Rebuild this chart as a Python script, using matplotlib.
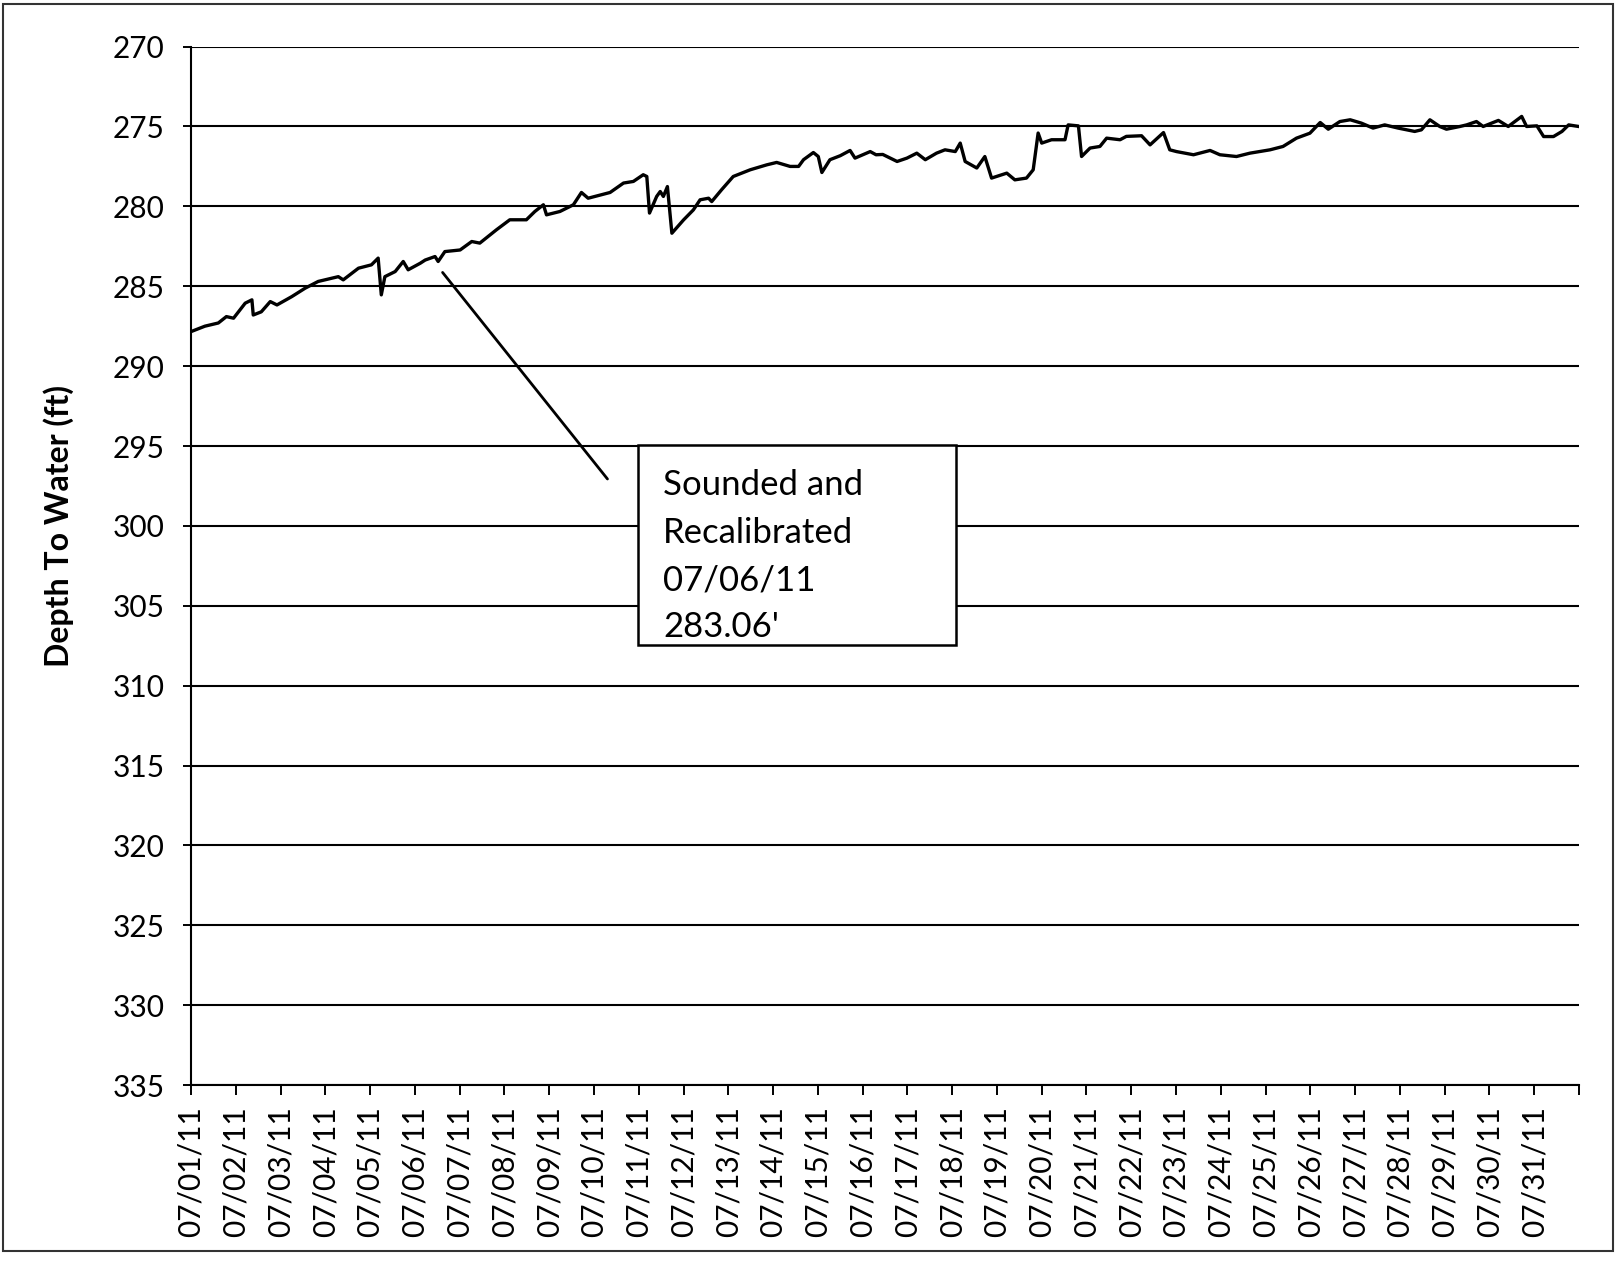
import matplotlib
matplotlib.use("Agg")
import matplotlib.pyplot as plt
from matplotlib.patches import Rectangle

plt.rcParams['font.family'] = ['Lato', 'DejaVu Sans']

# days since 07/01/11 00:00 and depth to water (ft)
days = [0.00, 0.31, 0.61, 0.79, 0.95, 1.21, 1.36, 1.39, 1.57, 1.77, 1.92, 2.25,
        2.55, 2.84, 3.14, 3.29, 3.40, 3.74, 4.03, 4.18, 4.25, 4.33, 4.56, 4.74,
        4.85, 5.12, 5.23, 5.45, 5.52, 5.67, 6.01, 6.27, 6.45, 6.82, 7.12, 7.49,
        7.68, 7.87, 7.94, 8.24, 8.54, 8.72, 8.87, 9.36, 9.66, 9.88, 10.10, 10.18,
        10.24, 10.40, 10.48, 10.55, 10.64, 10.74, 11.00, 11.22, 11.37, 11.56,
        11.63, 11.85, 12.11, 12.49, 12.86, 13.08, 13.38, 13.57, 13.68, 13.90,
        14.01, 14.09, 14.27, 14.50, 14.72, 14.83, 15.17, 15.30, 15.45, 15.77,
        15.99, 16.21, 16.40, 16.65, 16.84, 17.07, 17.18, 17.29, 17.55, 17.73,
        17.88, 18.22, 18.40, 18.66, 18.81, 18.92, 19.00, 19.22, 19.52, 19.59,
        19.82, 19.89, 20.08, 20.30, 20.45, 20.75, 20.89, 21.23, 21.42, 21.72,
        21.86, 22.01, 22.39, 22.76, 22.98, 23.35, 23.65, 24.10, 24.39, 24.69,
        24.99, 25.22, 25.40, 25.66, 25.89, 26.14, 26.40, 26.66, 26.96, 27.33,
        27.48, 27.67, 27.89, 28.04, 28.34, 28.49, 28.71, 28.86, 29.20, 29.42,
        29.72, 29.83, 30.06, 30.21, 30.43, 30.62, 30.77, 30.99]
depth = [287.84, 287.50, 287.30, 286.90, 287.00, 286.06, 285.85, 286.80, 286.60,
         285.96, 286.17, 285.65, 285.12, 284.70, 284.50, 284.40, 284.60, 283.87,
         283.66, 283.24, 285.54, 284.40, 284.08, 283.45, 283.97, 283.56, 283.36,
         283.14, 283.45, 282.83, 282.73, 282.20, 282.30, 281.47, 280.84, 280.84,
         280.32, 279.90, 280.53, 280.32, 279.90, 279.13, 279.49, 279.13, 278.54,
         278.44, 278.02, 278.13, 280.42, 279.38, 279.07, 279.38, 278.76, 281.68,
         280.85, 280.22, 279.59, 279.49, 279.70, 278.96, 278.13, 277.71, 277.40,
         277.25, 277.50, 277.50, 277.08, 276.63, 276.88, 277.88, 277.08, 276.83,
         276.50, 276.98, 276.57, 276.77, 276.75, 277.19, 276.98, 276.67, 277.08,
         276.67, 276.46, 276.57, 276.04, 277.19, 277.60, 276.88, 278.23, 277.92,
         278.34, 278.23, 277.71, 275.41, 276.04, 275.83, 275.83, 274.90, 274.96,
         276.88, 276.35, 276.25, 275.73, 275.83, 275.62, 275.58, 276.15, 275.38,
         276.46, 276.57, 276.77, 276.50, 276.77, 276.88, 276.67, 276.46, 276.25,
         275.73, 275.42, 274.75, 275.17, 274.69, 274.58, 274.79, 275.10, 274.90,
         275.10, 275.31, 275.21, 274.58, 275.00, 275.17, 275.00, 274.90, 274.69,
         275.00, 274.62, 275.00, 274.37, 275.00, 274.96, 275.63, 275.63, 275.31,
         274.90, 275.00]

tick_days = list(range(32))
tick_labels = ["07/%02d/11" % d for d in range(1, 32)] + [""]
y_ticks = list(range(270, 340, 5))

note = "Sounded and\nRecalibrated\n07/06/11\n283.06'"

fig = plt.figure(figsize=(16.16, 12.63), dpi=100)
ax = fig.add_axes([0.1182, 0.1409, 0.8589, 0.8222])

ax.plot(days, depth, color="black", lw=2.4, zorder=3)

ax.set_xlim(0, 31)
ax.set_ylim(335, 270)
ax.set_yticks(y_ticks)
ax.set_xticks(tick_days)
ax.set_xticklabels(tick_labels, rotation=90)
ax.tick_params(axis="y", labelsize=21.5, length=6, width=1.4, pad=13)
ax.tick_params(axis="x", labelsize=21.5, length=7, width=1.4, pad=8)

ax.grid(axis="y", color="black", lw=1.5)
ax.grid(axis="x", visible=False)
ax.set_axisbelow(True)
for s in ["top", "right"]:
    ax.spines[s].set_visible(False)
for s in ["left", "bottom"]:
    ax.spines[s].set_linewidth(1.5)

ax.set_ylabel("Depth To Water (ft)", fontsize=23, fontweight="bold")
ax.yaxis.set_label_coords(-0.0843, 0.538)

# leader line and callout box
ax.annotate("", xy=(5.58, 284.0), xytext=(9.34, 297.2),
            arrowprops=dict(arrowstyle="-", lw=2, color="black"))
box = Rectangle((0.322, 0.4237), 0.229, 0.1926, transform=ax.transAxes,
                facecolor="white", edgecolor="black", lw=1.8, zorder=5,
                clip_on=False)
ax.add_patch(box)
ax.text(0.340, 0.509, note, transform=ax.transAxes, fontsize=25,
        va="center", ha="left", linespacing=1.59, zorder=6)

# chart area border
fig.patches.append(Rectangle((3 / 1616, 12 / 1263), 1610 / 1616, 1247 / 1263,
                             transform=fig.transFigure, fill=False,
                             edgecolor="#333333", lw=1.5))

plt.savefig("out.png", dpi=100)
